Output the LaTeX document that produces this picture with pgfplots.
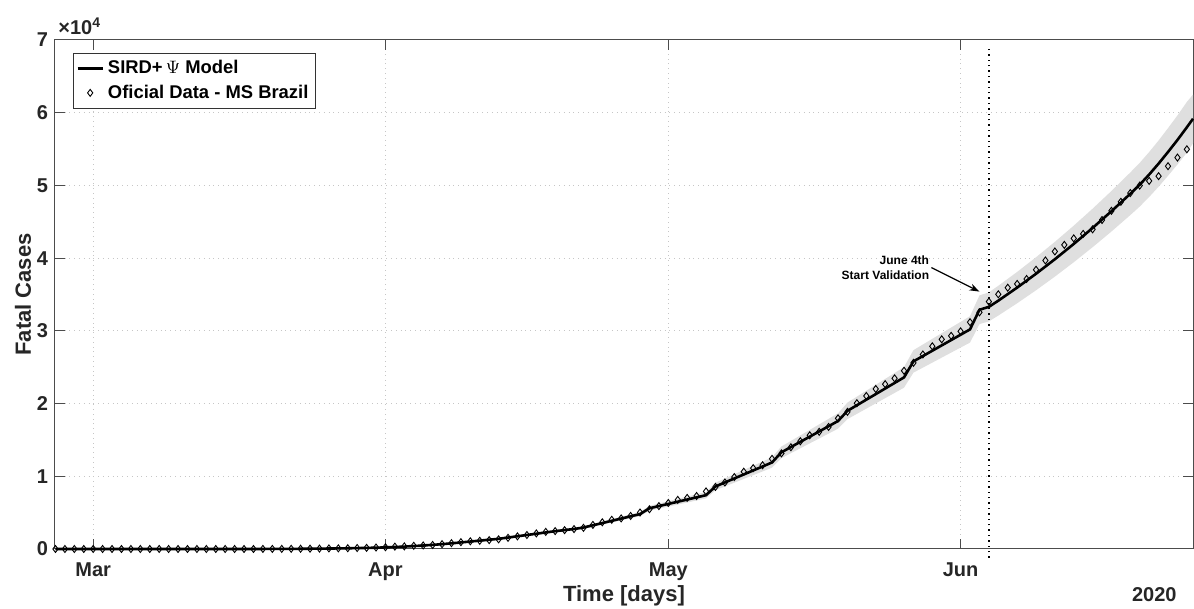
\documentclass[border=0pt]{standalone}
\usepackage{fontspec}
\setmainfont{Liberation Sans}
\usepackage{pgfplots}
\usepackage{pgfplotstable}
\pgfplotsset{compat=1.18}
\usepgfplotslibrary{fillbetween}
\usetikzlibrary{arrows.meta}

\pgfplotsset{
  legline/.style={legend image code/.code={\draw[##1] (0pt,0pt) -- (12.5pt,0pt);}},
  legmark/.style={legend image code/.code={\draw[mark repeat=2,mark phase=2,##1] plot coordinates {(0pt,0pt) (6.25pt,0pt) (12.5pt,0pt)};}},
}

% model: day (Mar 1 = 0), model, upper, lower
\pgfplotstableread{
d m u l
-4 0 0 0
14 0 0 0
16 2 2.1 1.9
18 6 6.4 5.6
20 14 14.8 13.2
22 28 29.7 26.3
24 48 50.9 45.1
26 80 84.8 75.2
28 120 127 113
30 180 191 169
31 220 233 207
33 330 350 310
35 480 509 451
37 660 700 620
39 900 954 846
41 1150 1219 1081
43 1400 1484 1316
45 1750 1855 1645
47 2100 2226 1974
49 2450 2597 2303
51 2750 2915 2585
52 2950 3127 2773
58 4800 5088 4512
59 5600 5936 5264
65 7400 7844 6956
66 8600 9116 8084
72 11900 12614 11186
73 13300 14098 12502
79 17600 18656 16544
80 19000 20140 17860
86 23600 25016 22184
87 25800 27348 24252
93 30200 32012 28388
94 32900 34874 30926
95 33300 35298 31302
96 34150 36199 32101
97 35050 37153 32947
98 35950 38107 33793
99 36900 39114 34686
100 37850 40121 35579
101 38850 41181 36519
102 39850 42241 37459
103 40900 43354 38446
104 41950 44467 39433
105 43050 45633 40467
106 44150 46799 41501
107 45300 48018 42582
108 46450 49237 43663
109 47650 50509 44791
110 48850 51781 45919
111 50100 53106 47094
112 51500 54590 48410
113 53000 56180 49820
114 54600 57876 51324
115 56250 59625 52875
116 58000 61480 54520
116.65 59170 62500 55800
}\modeltab

% official data: day (Mar 1 = 0), cumulative deaths
\pgfplotstableread{
d v
-4 0
-3 0
-2 0
-1 0
0 0
1 0
2 0
3 0
4 0
5 0
6 0
7 0
8 0
9 0
10 0
11 0
12 0
13 0
14 0
15 0
16 1
17 4
18 7
19 11
20 18
21 25
22 34
23 46
24 57
25 77
26 92
27 111
28 136
29 159
30 201
31 240
32 324
33 359
34 445
35 486
36 553
37 667
38 800
39 941
40 1056
41 1124
42 1223
43 1328
44 1532
45 1736
46 1924
47 2141
48 2354
49 2462
50 2587
51 2741
52 2906
53 3313
54 3670
55 4016
56 4205
57 4543
58 5017
59 5466
60 5901
61 6329
62 6750
63 7025
64 7288
65 7921
66 8536
67 9146
68 9897
69 10627
70 11123
71 11519
72 12400
73 13149
74 13993
75 14817
76 15633
77 16118
78 16792
79 17971
80 18859
81 20047
82 21048
83 22013
84 22666
85 23473
86 24512
87 25598
88 26754
89 27878
90 28834
91 29314
92 29937
93 31199
94 32548
95 34021
96 35026
97 35930
98 36455
99 37134
100 38406
101 39680
102 40919
103 41828
104 42720
105 43332
106 43959
107 45241
108 46510
109 47748
110 48954
111 49976
112 50617
113 51271
114 52645
115 53830
116 54971
}\datatab

\begin{document}
\begin{tikzpicture}
\begin{axis}[
  scale only axis, width=569pt, height=254.5pt,
  xmin=-4.05, xmax=116.65, ymin=0, ymax=70000,
  xtick={0,31,61,92}, xticklabels={Mar,Apr,May,Jun},
  ytick={0,10000,20000,30000,40000,50000,60000,70000},
  yticklabels={0,1,2,3,4,5,6,7},
  scaled y ticks=false, scaled x ticks=false,
  tick align=inside, major tick length=5pt,
  tick style={black!70, line width=0.5pt},
  axis line style={black!70, line width=0.5pt},
  grid=major, major grid style={dotted, gray!45, line width=0.5pt},
  tick label style={font=\bfseries\fontsize{10}{12}\selectfont, text=black!85},
  xticklabel style={anchor=base, yshift=-14pt},
  xlabel={Time [days]}, ylabel={Fatal Cases},
  label style={font=\bfseries\fontsize{11}{13}\selectfont, text=black!85},
  xlabel style={at={(axis description cs:0.5,0)}, anchor=base, yshift=-26.5pt},
  ylabel style={at={(axis description cs:-0.028,0.5)}, anchor=center},
  clip=false,
  legend style={at={(rel axis cs:0,1)}, anchor=north west, xshift=9pt, yshift=-6.5pt,
    draw=black!80, fill=white, font=\bfseries\fontsize{9.2}{11}\selectfont,
    inner sep=1.5pt, row sep=0pt},
  legend cell align=left,
]
\addplot[name path=up, draw=none, forget plot] table[x=d, y=u] {\modeltab};
\addplot[name path=lo, draw=none, forget plot] table[x=d, y=l] {\modeltab};
\addplot[fill=gray!25, draw=none, forget plot] fill between[of=up and lo];

\addplot[black, line width=1.3pt, no markers, legline]
  table[x=d, y=m] {\modeltab};
\addlegendentry{SIRD+\,$\Psi$ Model}

\addplot[only marks, mark=diamond, mark size=1.75pt, black, mark options={line width=0.45pt}, legmark]
  table[x=d, y=v] {\datatab};
\addlegendentry{Oficial Data - MS Brazil}

\draw[black, dotted, line width=0.7pt] (axis cs:95,-1200) -- (axis cs:95,68800);
\draw[-{Stealth[length=5pt,width=3.5pt]}, line width=0.6pt] (axis cs:88.9,38700) -- (axis cs:94.0,35400);
\node[anchor=east, align=right, inner sep=0pt, font=\bfseries\fontsize{6}{7.5}\selectfont]
  at (axis cs:88.7,38750) {June 4th\\Start Validation};

\node[anchor=base west, inner sep=0pt, xshift=1.5pt, yshift=2.5pt,
  font=\bfseries\fontsize{10}{12}\selectfont, text=black!85]
  at (rel axis cs:0,1) {×10\textsuperscript{4}};
\node[anchor=base east, inner sep=0pt, xshift=-8pt, yshift=-26.5pt,
  font=\bfseries\fontsize{10}{12}\selectfont, text=black!85]
  at (rel axis cs:1,0) {2020};
\end{axis}
\pgfresetboundingbox
\path[use as bounding box] ([xshift=-27.5pt,yshift=-30pt]current axis.south west)
  rectangle ([xshift=0.5pt,yshift=20pt]current axis.north east);
\end{tikzpicture}
\end{document}
